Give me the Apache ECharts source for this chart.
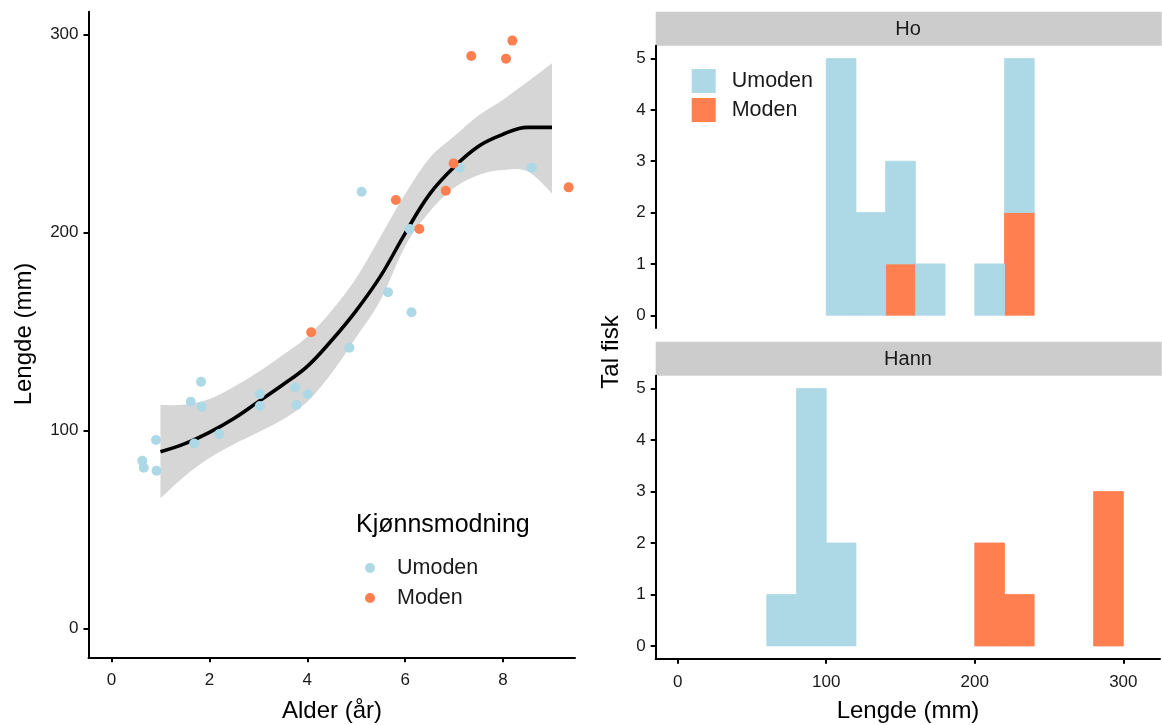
<!DOCTYPE html>
<html>
<head>
<meta charset="utf-8">
<script src="https://cdn.jsdelivr.net/npm/echarts@6/dist/echarts.min.js"></script>
<style>html,body{margin:0;padding:0;background:#fff;}#c{width:1162px;height:725px;}</style>
</head>
<body>
<div id="c"></div>
<script>
// ---------- Data ----------
const ageUmoden = [5.11, 5.65, 7.12, 8.59, 6.09, 6.13, 4.86, 1.83, 1.62, 1.84, 3.03, 3.03, 3.75, 4.01, 3.78, 0.91, 1.69, 2.20, 0.63, 0.66, 0.92];
const lenUmoden = [220.5, 169.7, 232.6, 232.6, 201.7, 159.6, 141.7, 124.5, 114.4, 111.9, 118.3, 112.3, 121.7, 118.2, 112.8, 95.1, 93.4, 98.1, 84.6, 81.1, 79.6];
const ageModen = [8.19, 7.35, 8.06, 6.99, 9.34, 5.81, 6.83, 6.29, 4.08];
const lenModen = [296.8, 289.0, 287.7, 234.8, 222.7, 216.3, 221.0, 201.7, 149.5];

const smoothX     = [1.0, 1.5, 2.0, 2.5, 3.0, 3.5, 4.0, 4.5, 5.0, 5.5, 6.0, 6.5, 7.0, 7.5, 8.0, 8.5, 9.0];
const smoothFit   = [89.2, 93.3, 99.0, 106.0, 114.5, 123.0, 132.3, 145.5, 160.5, 178.0, 199.5, 219.3, 233.0, 243.5, 249.5, 253.0, 253.0];
const smoothLower = [65.7, 77.0, 86.0, 93.0, 99.0, 105.5, 114.5, 129.0, 147.0, 166.0, 193.0, 210.5, 222.5, 229.0, 231.5, 230.8, 219.7];
const smoothUpper = [112.8, 113.0, 115.8, 122.0, 129.5, 138.0, 147.3, 160.5, 176.9, 198.0, 219.3, 237.5, 248.5, 259.0, 267.0, 276.0, 285.4];

const binStarts  = [60, 80, 100, 120, 140, 160, 180, 200, 220, 240, 260, 280];
const binWidth   = 20;
const hoUmoden   = [0, 0, 5, 2, 2, 1, 0, 1, 3, 0, 0, 0];
const hoModen    = [0, 0, 0, 0, 1, 0, 0, 0, 2, 0, 0, 0];
const hannUmoden = [1, 5, 2, 0, 0, 0, 0, 0, 0, 0, 0, 0];
const hannModen  = [0, 0, 0, 0, 0, 0, 0, 2, 1, 0, 0, 3];

const ageTicks = [0, 2, 4, 6, 8];
const lenTicks = [0, 100, 200, 300];
const countTicks = [0, 1, 2, 3, 4, 5];
const histTicks = [0, 100, 200, 300];

// ---------- Styling ----------
const C_U = '#ADD8E6', C_M = '#FF7F50';
const FONT = 'Liberation Sans, Arial, sans-serif';
const TXT = '#1A1A1A';
const TICK_FS = 17, TITLE_FS = 24;

function zip(a, b) { return a.map((v, i) => [v, b[i]]); }
function rects(counts, base) {
  const out = [];
  counts.forEach((c, i) => {
    if (c > 0) {
      const b = base ? base[i] : 0;
      out.push([binStarts[i], binStarts[i] + binWidth, b, b + c]);
    }
  });
  return out;
}
function rectRenderer(color) {
  return function (params, api) {
    const p0 = api.coord([api.value(0), api.value(2)]);
    const p1 = api.coord([api.value(1), api.value(3)]);
    return {
      type: 'rect',
      shape: { x: p0[0], y: p1[1], width: p1[0] - p0[0], height: p0[1] - p1[1] },
      style: { fill: color, stroke: color, lineWidth: 0.8 }
    };
  };
}
// Catmull-Rom -> cubic bezier path segments through pixel points
function crPath(pts, moveFirst) {
  let d = (moveFirst ? 'M' : 'L') + pts[0][0].toFixed(2) + ',' + pts[0][1].toFixed(2);
  for (let i = 0; i < pts.length - 1; i++) {
    const p0 = pts[Math.max(0, i - 1)], p1 = pts[i], p2 = pts[i + 1], p3 = pts[Math.min(pts.length - 1, i + 2)];
    const c1 = [p1[0] + (p2[0] - p0[0]) / 6, p1[1] + (p2[1] - p0[1]) / 6];
    const c2 = [p2[0] - (p3[0] - p1[0]) / 6, p2[1] - (p3[1] - p1[1]) / 6];
    d += 'C' + c1[0].toFixed(2) + ',' + c1[1].toFixed(2) + ' ' + c2[0].toFixed(2) + ',' + c2[1].toFixed(2) + ' ' + p2[0].toFixed(2) + ',' + p2[1].toFixed(2);
  }
  return d;
}
function bandRenderer(params, api) {
  const up = smoothX.map((x, i) => api.coord([x, smoothUpper[i]]));
  const lo = smoothX.map((x, i) => api.coord([x, smoothLower[i]])).reverse();
  const d = crPath(up, true) + crPath(lo, false) + 'Z';
  return { type: 'path', shape: { pathData: d }, style: { fill: '#D6D6D6' } };
}
function mkAxis(grid, min, max, ticks, margin, hidden) {
  if (hidden) {
    return { type: 'value', gridIndex: grid, min: min, max: max,
      axisLine: { show: false }, axisTick: { show: false }, axisLabel: { show: false }, splitLine: { show: false } };
  }
  return {
    type: 'value', gridIndex: grid, min: min, max: max, z: 5,
    axisLine: { show: true, onZero: false, lineStyle: { color: '#000', width: 2 } },
    axisTick: { show: true, length: 5, customValues: ticks, lineStyle: { color: '#000', width: 2 } },
    axisLabel: { color: TXT, fontSize: TICK_FS, fontFamily: FONT, margin: margin, customValues: ticks },
    splitLine: { show: false }
  };
}

const chart = echarts.init(document.getElementById('c'), null, { renderer: 'canvas' });

const grids = [
  { left: 88.5, top: 11.7, width: 486.5, height: 645.6 },
  { left: 655.7, top: 45.7, width: 504.3, height: 282.4 },
  { left: 655.7, top: 375.7, width: 504.3, height: 283.1 }
];

const xAxes = [
  mkAxis(0, -0.47, 9.47, ageTicks, 15),
  mkAxis(1, -14.8, 324.7, histTicks, 15, true),
  mkAxis(2, -14.8, 324.7, histTicks, 15)
];
const yAxes = [
  mkAxis(0, -14.6, 311.4, lenTicks, 10),
  mkAxis(1, -0.25, 5.25, countTicks, 10),
  mkAxis(2, -0.25, 5.25, countTicks, 10)
];

const series = [
  { type: 'custom', name: 'band', xAxisIndex: 0, yAxisIndex: 0, silent: true, z: 1,
    renderItem: bandRenderer, data: [[smoothX[0], smoothLower[0]]] },
  { type: 'line', name: 'fit', xAxisIndex: 0, yAxisIndex: 0, smooth: 0.4, symbol: 'none',
    lineStyle: { color: '#000', width: 3.6 }, data: zip(smoothX, smoothFit), silent: true, z: 2 },
  { type: 'scatter', name: 'Umoden', xAxisIndex: 0, yAxisIndex: 0, symbolSize: 10,
    itemStyle: { color: C_U, opacity: 1 }, data: zip(ageUmoden, lenUmoden), z: 3 },
  { type: 'scatter', name: 'Moden', xAxisIndex: 0, yAxisIndex: 0, symbolSize: 10,
    itemStyle: { color: C_M, opacity: 1 }, data: zip(ageModen, lenModen), z: 4 },
  { type: 'custom', name: 'Moden', xAxisIndex: 1, yAxisIndex: 1, itemStyle: { color: C_M },
    renderItem: rectRenderer(C_M), encode: { x: [0, 1], y: [2, 3] }, data: rects(hoModen) },
  { type: 'custom', name: 'Umoden', xAxisIndex: 1, yAxisIndex: 1, itemStyle: { color: C_U },
    renderItem: rectRenderer(C_U), encode: { x: [0, 1], y: [2, 3] }, data: rects(hoUmoden, hoModen) },
  { type: 'custom', name: 'Moden', xAxisIndex: 2, yAxisIndex: 2, itemStyle: { color: C_M },
    renderItem: rectRenderer(C_M), encode: { x: [0, 1], y: [2, 3] }, data: rects(hannModen) },
  { type: 'custom', name: 'Umoden', xAxisIndex: 2, yAxisIndex: 2, itemStyle: { color: C_U },
    renderItem: rectRenderer(C_U), encode: { x: [0, 1], y: [2, 3] }, data: rects(hannUmoden, hannModen) }
];

const option = {
  backgroundColor: '#fff',
  animation: false,
  textStyle: { fontFamily: FONT },
  grid: grids,
  xAxis: xAxes,
  yAxis: yAxes,
  series: series,
  title: {
    text: 'Kjønnsmodning', left: 356, top: 513, padding: 0,
    textStyle: { fontSize: 25, fontWeight: 'normal', color: '#000', fontFamily: FONT }
  },
  legend: [
    { orient: 'vertical', left: 365, top: 557, padding: 0, itemWidth: 10, itemHeight: 10, itemGap: 8,
      selectedMode: false,
      data: [{ name: 'Umoden', icon: 'circle' }, { name: 'Moden', icon: 'circle' }],
      textStyle: { fontSize: 21.5, color: TXT, fontFamily: FONT, lineHeight: 22, padding: [0, 0, 0, 17] } },
    { orient: 'vertical', left: 691.7, top: 69, padding: 0, itemWidth: 24, itemHeight: 24, itemGap: 5,
      selectedMode: false,
      data: [{ name: 'Umoden', icon: 'rect' }, { name: 'Moden', icon: 'rect' }],
      itemStyle: { borderWidth: 0 },
      textStyle: { fontSize: 21.5, color: TXT, fontFamily: FONT, padding: [0, 0, 0, 11] } }
  ],
  graphic: [
    { type: 'rect', shape: { x: 655.7, y: 11.7, width: 506, height: 34 }, style: { fill: '#CCCCCC' }, silent: true, z: 0 },
    { type: 'rect', shape: { x: 655.7, y: 341.7, width: 506, height: 34 }, style: { fill: '#CCCCCC' }, silent: true, z: 0 },
    { type: 'text', x: 908, y: 29, style: { text: 'Ho', fontSize: 20, fill: '#1A1A1A', fontFamily: FONT, align: 'center', verticalAlign: 'middle' }, z: 5 },
    { type: 'text', x: 908, y: 359, style: { text: 'Hann', fontSize: 20, fill: '#1A1A1A', fontFamily: FONT, align: 'center', verticalAlign: 'middle' }, z: 5 },
    { type: 'text', x: 332, y: 711, style: { text: 'Alder (år)', fontSize: TITLE_FS, fill: '#000', fontFamily: FONT, align: 'center', verticalAlign: 'middle' } },
    { type: 'text', x: 908, y: 711, style: { text: 'Lengde (mm)', fontSize: TITLE_FS, fill: '#000', fontFamily: FONT, align: 'center', verticalAlign: 'middle' } },
    { type: 'text', x: 24, y: 334, rotation: Math.PI / 2, style: { text: 'Lengde (mm)', fontSize: TITLE_FS, fill: '#000', fontFamily: FONT, align: 'center', verticalAlign: 'middle' } },
    { type: 'text', x: 611, y: 352, rotation: Math.PI / 2, style: { text: 'Tal fisk', fontSize: TITLE_FS, fill: '#000', fontFamily: FONT, align: 'center', verticalAlign: 'middle' } }
  ]
};
chart.setOption(option);
</script>
</body>
</html>
